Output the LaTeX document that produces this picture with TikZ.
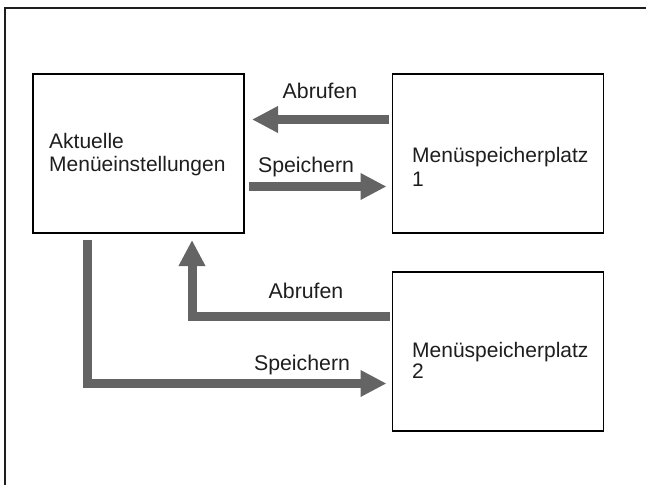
\documentclass[tikz,border=0pt]{standalone}
\usepackage{fontspec}
\setmainfont{Liberation Sans}
\usetikzlibrary{arrows.meta,calc}
\definecolor{arrowgray}{HTML}{646464}
\definecolor{txt}{HTML}{1E1E1E}
\begin{document}
\begin{tikzpicture}[x=1pt,y=-1pt,
  box/.style={draw=black,line width=1.7pt,minimum width=211pt,minimum height=159pt,inner sep=0pt,outer sep=0pt},
  boxtext/.style={font=\fontsize{21}{23}\selectfont,text=txt,anchor=base west,inner sep=0pt},
  lbl/.style={font=\fontsize{21.3}{24}\selectfont,text=txt,anchor=base,inner sep=0pt},
  garrow/.style={draw=arrowgray,line width=9pt,-{Triangle[width=25pt,length=26pt]}}]
\useasboundingbox (0,0) rectangle (646,485);
\draw[line width=1.2pt,color=txt] (5,485) -- (5,8) -- (646,8);
% boxes
\node[box] (cur) at (138.5,153.5) {};
\node[box] (m1) at (498,153.5) {};
\node[box] (m2) at (498,351.5) {};
% box texts
\node[boxtext] (cur1) at (49,148) {Aktuelle};
\node[boxtext] (cur2) at (49,171) {Menüeinstellungen};
\node[boxtext] (m1a) at (412,162) {Menüspeicherplatz};
\node[boxtext] (m1b) at (412,186) {1};
\node[boxtext] (m2a) at (412,357) {Menüspeicherplatz};
\node[boxtext] (m2b) at (412,378.5) {2};
% labels
\node[lbl] (ab1) at (320,98) {Abrufen};
\node[lbl] (sp1) at (306,172) {Speichern};
\node[lbl] (ab2) at (306,298) {Abrufen};
\node[lbl] (sp2) at (302,370) {Speichern};
% arrows
\draw[garrow] ($(m1.west)+(-4,-34)$) -- ($(cur.east)+(8,-34)$);
\draw[garrow] ($(cur.east)+(5,33)$) -- ($(m1.west)+(-6,33)$);
\coordinate (ab2s) at ($(m2.west)+(-3,-35)$);
\coordinate (ab2t) at ($(cur.south)+(53.5,7)$);
\draw[garrow] (ab2s) -- (ab2t |- ab2s) -- (ab2t);
\coordinate (sp2s) at ($(cur.south)+(-51.5,7)$);
\coordinate (sp2t) at ($(m2.west)+(-6,32)$);
\draw[garrow] (sp2s) -- (sp2s |- sp2t) -- (sp2t);
\end{tikzpicture}
\end{document}
